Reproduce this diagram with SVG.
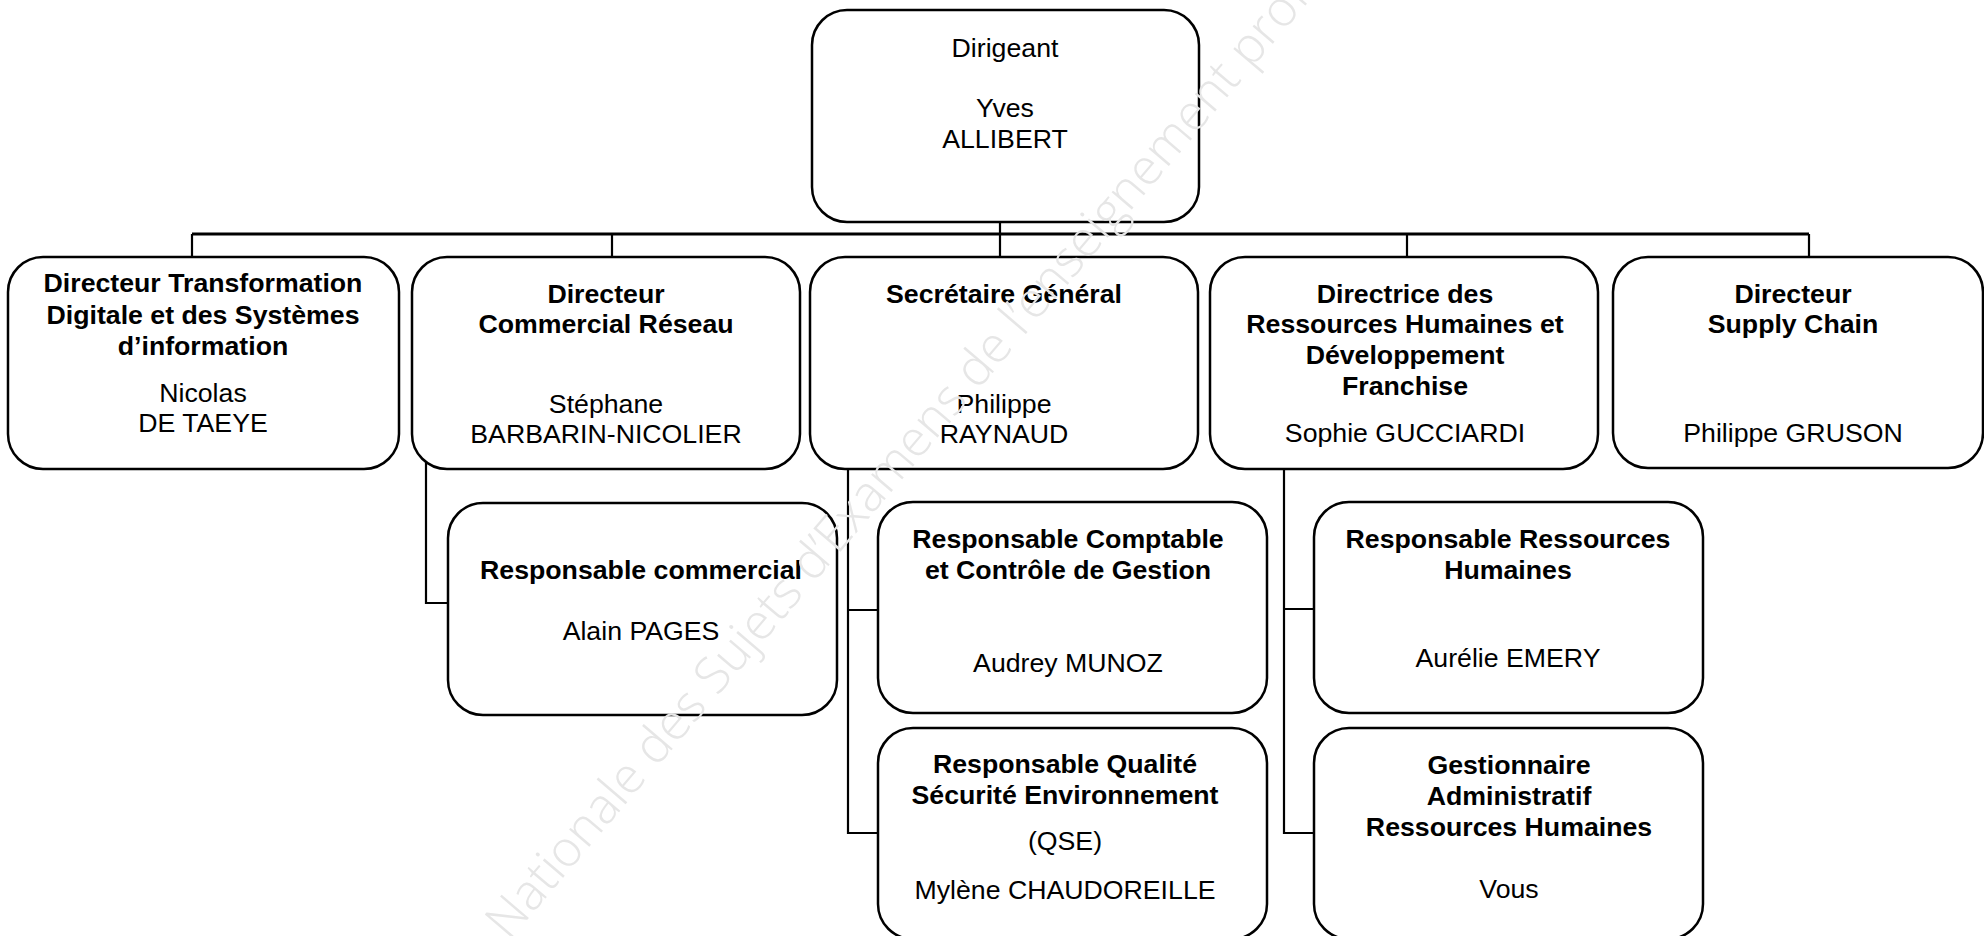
<svg xmlns="http://www.w3.org/2000/svg" width="1984" height="936" viewBox="0 0 1984 936">
<style>
.box{fill:#ffffff;stroke:#000000;stroke-width:2.5}
.t{font-family:"Liberation Sans",Arial,sans-serif;font-size:26.7px;fill:#000000;text-anchor:middle}
.b{font-weight:bold}
.c{fill:none;stroke:#000000;stroke-width:2.2}
.h{fill:none;stroke:#000000;stroke-width:3.2}
.wm{font-family:"Open Sans","DejaVu Sans",sans-serif;font-weight:300;font-size:50px;fill:#e6e6e6}
</style>
<rect width="1984" height="936" fill="#ffffff"/>
<g id="connectors">
<path class="h" d="M192 234 H1809"/>
<path class="c" d="M1000 222 V257 M192 234 V257 M612 234 V257 M1407 234 V257 M1809 234 V258"/>
<path class="c" d="M426 453 V603 H448"/>
<path class="c" d="M848 469 V833 H878 M848 610 H878"/>
<path class="c" d="M1284 469 V833 H1314 M1284 609 H1314"/>
</g>
<g id="dirigeant">
<rect class="box" x="812" y="10" width="387" height="212" rx="35"/>
<text class="t" x="1005" y="57">Dirigeant</text>
<text class="t" x="1005" y="117">Yves</text>
<text class="t" x="1005" y="148">ALLIBERT</text>
</g>
<g id="dsi">
<rect class="box" x="8" y="257" width="391" height="212" rx="35"/>
<text class="t b" x="203" y="292">Directeur Transformation</text>
<text class="t b" x="203" y="324">Digitale et des Systèmes</text>
<text class="t b" x="203" y="355">d’information</text>
<text class="t" x="203" y="402">Nicolas</text>
<text class="t" x="203" y="432">DE TAEYE</text>
</g>
<g id="dcr">
<rect class="box" x="412" y="257" width="388" height="212" rx="35"/>
<text class="t b" x="606" y="303">Directeur</text>
<text class="t b" x="606" y="333">Commercial Réseau</text>
<text class="t" x="606" y="413">Stéphane</text>
<text class="t" x="606" y="443">BARBARIN-NICOLIER</text>
</g>
<g id="sg">
<rect class="box" x="810" y="257" width="388" height="212" rx="35"/>
<text class="t b" x="1004" y="303">Secrétaire Général</text>
<text class="t" x="1004" y="413">Philippe</text>
<text class="t" x="1004" y="443">RAYNAUD</text>
</g>
<g id="drh">
<rect class="box" x="1210" y="257" width="388" height="212" rx="35"/>
<text class="t b" x="1405" y="303">Directrice des</text>
<text class="t b" x="1405" y="333">Ressources Humaines et</text>
<text class="t b" x="1405" y="364">Développement</text>
<text class="t b" x="1405" y="395">Franchise</text>
<text class="t" x="1405" y="442">Sophie GUCCIARDI</text>
</g>
<g id="dsc">
<rect class="box" x="1613" y="257" width="370" height="211" rx="35"/>
<text class="t b" x="1793" y="303">Directeur</text>
<text class="t b" x="1793" y="333">Supply Chain</text>
<text class="t" x="1793" y="442">Philippe GRUSON</text>
</g>
<g id="resp-commercial">
<rect class="box" x="448" y="503" width="389" height="212" rx="35"/>
<text class="t b" x="641" y="579">Responsable commercial</text>
<text class="t" x="641" y="640">Alain PAGES</text>
</g>
<g id="resp-comptable">
<rect class="box" x="878" y="502" width="389" height="211" rx="35"/>
<text class="t b" x="1068" y="548">Responsable Comptable</text>
<text class="t b" x="1068" y="579">et Contrôle de Gestion</text>
<text class="t" x="1068" y="672">Audrey MUNOZ</text>
</g>
<g id="resp-qse">
<rect class="box" x="878" y="728" width="389" height="211" rx="35"/>
<text class="t b" x="1065" y="773">Responsable Qualité</text>
<text class="t b" x="1065" y="804">Sécurité Environnement</text>
<text class="t" x="1065" y="850">(QSE)</text>
<text class="t" x="1065" y="899">Mylène CHAUDOREILLE</text>
</g>
<g id="resp-rh">
<rect class="box" x="1314" y="502" width="389" height="211" rx="35"/>
<text class="t b" x="1508" y="548">Responsable Ressources</text>
<text class="t b" x="1508" y="579">Humaines</text>
<text class="t" x="1508" y="667">Aurélie EMERY</text>
</g>
<g id="gest-rh">
<rect class="box" x="1314" y="728" width="389" height="211" rx="35"/>
<text class="t b" x="1509" y="774">Gestionnaire</text>
<text class="t b" x="1509" y="805">Administratif</text>
<text class="t b" x="1509" y="836">Ressources Humaines</text>
<text class="t" x="1509" y="898">Vous</text>
</g>
<text class="wm" x="430" y="1034" transform="rotate(-49.6 430 1034)">Base Nationale des Sujets d’Examens de l’enseignement professionnel</text>
</svg>
